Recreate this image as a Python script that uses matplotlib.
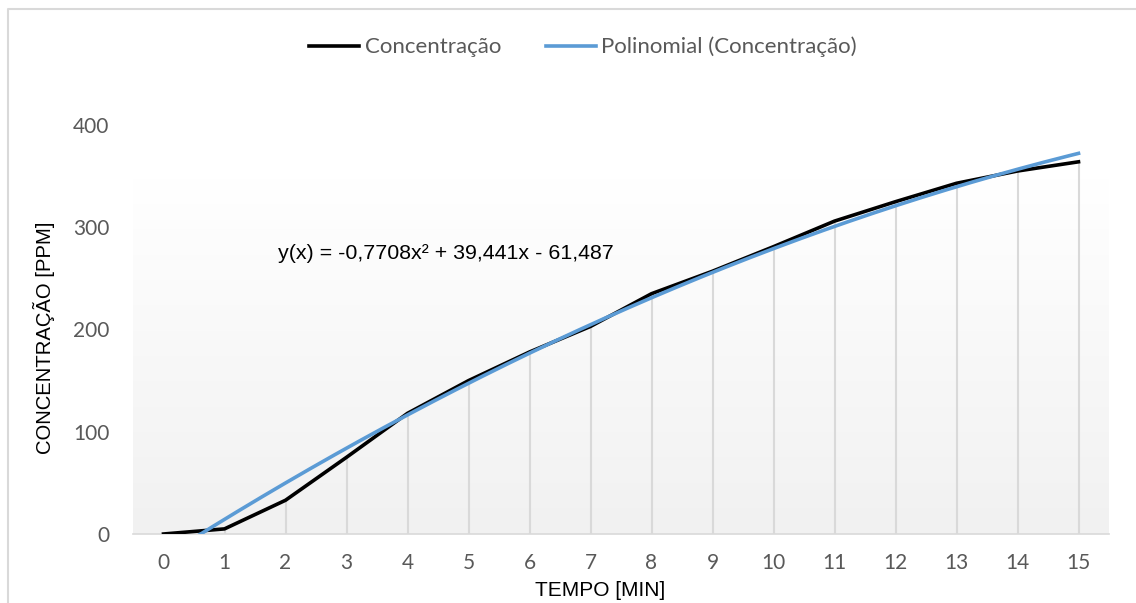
import numpy as np
import matplotlib.pyplot as plt
from matplotlib.colors import LinearSegmentedColormap
from matplotlib.lines import Line2D

# data
tempo = list(range(16))
conc = [0, 5, 33, 75, 118, 150, 178, 203, 235, 257, 281, 306, 325, 343, 355, 364]
# Excel trendline (x = category index, starting at 1)
trend_coef = [-0.7708, 39.441, -61.487]
eq_text = "y(x) = -0,7708x\u00b2 + 39,441x - 61,487"
yticks = [0, 100, 200, 300, 400]

W, H = 1136, 603
fig = plt.figure(figsize=(W/100, H/100), dpi=100)
ax = fig.add_axes([133/W, 1-534/H, (1109-133)/W, (534-125)/H])

tick_font = "Lato"
grey = "#595959"

# gradient plot-area fill
cmap = LinearSegmentedColormap.from_list("g", ["#f1f1f1", "#ffffff"])
grad = np.linspace(0, 1, 256).reshape(-1, 1)
ax.imshow(grad, extent=[-0.5, 15.5, 0, 348], origin="lower", cmap=cmap,
          aspect="auto", zorder=0)

# drop lines
ax.vlines(tempo, 0, conc, color="#d9d9d9", lw=1.5, zorder=1)

ax.plot(tempo, conc, color="black", lw=2.6, zorder=3, solid_joinstyle="miter",
        label="Concentração")
xt = np.linspace(0, 15, 300)
ax.plot(xt, np.polyval(trend_coef, xt + 1), color="#5b9bd5", lw=2.6, zorder=4,
        label="Polinomial (Concentração)")

ax.set_xlim(-0.5, 15.5)
ax.set_ylim(0, 400)
ax.set_xticks(tempo)
ax.set_yticks(yticks)
for s in ["top", "right", "left"]:
    ax.spines[s].set_visible(False)
ax.spines["bottom"].set_color("#d9d9d9")
ax.spines["bottom"].set_linewidth(1.2)
ax.tick_params(length=0, labelcolor=grey, labelsize=15)
ax.tick_params(axis="x", pad=14)
ax.tick_params(axis="y", pad=17)
for lab in ax.get_xticklabels() + ax.get_yticklabels():
    lab.set_fontfamily(tick_font)
ax.set_facecolor("white")

ax.text(1.87, 274, eq_text, fontsize=15.4, family="Liberation Sans",
        va="center", ha="left", color="black", zorder=5)

fig.text(600/W, 1-590/H, "TEMPO [MIN]", ha="center", va="center",
         fontsize=15, family="Liberation Sans")
fig.text(44/W, 1-338/H, "CONCENTRAÇÃO [PPM]", ha="center", va="center",
         rotation=90, fontsize=14.6, family="Liberation Sans")

fig.legend(loc="center", bbox_to_anchor=(583/W, 1-47/H), ncol=2, frameon=False,
           handlelength=2.25, handletextpad=0.25, columnspacing=2.0,
           prop={"family": tick_font, "size": 16}, labelcolor=grey)

# chart border
fig.add_artist(Line2D([8/W, 8/W, 1], [0, 1-9/H, 1-9/H], color="#d9d9d9",
                      lw=1.5, transform=fig.transFigure))

fig.savefig("out.png", dpi=100)
